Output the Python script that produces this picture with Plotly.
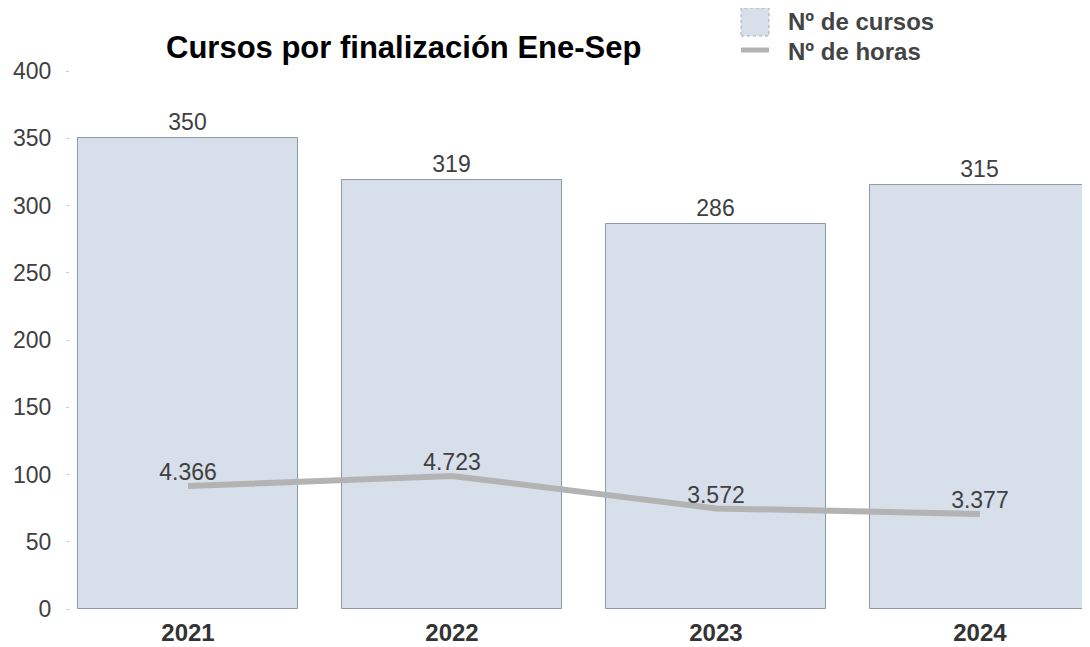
import plotly.graph_objects as go

years = ["2021", "2022", "2023", "2024"]
cursos = [350, 319, 286, 315]
horas = [4366, 4723, 3572, 3377]
y_ticks = [0, 50, 100, 150, 200, 250, 300, 350, 400]

OFF = 8  # page body margin
W, H = 1082, 639
ML, MR, MT, MB = 62, 0, 63, 38
PW, PH = W - ML - MR, H - MT - MB

def px(x):
    return (x - OFF - ML) / PW

def py(y):
    return (H - MB - (y - OFF)) / PH

BAR_FILL = "#D6DFEA"
BAR_LINE = "#8E99A8"
LINE_COL = "#B3B3B3"
TXT = "#404040"
FONT = "Liberation Sans, Arial, sans-serif"

fig = go.Figure()
fig.add_trace(go.Bar(
    x=years, y=cursos, name="Nº de cursos",
    marker=dict(color=BAR_FILL, line=dict(color=BAR_LINE, width=1)),
    width=0.833,
    text=cursos, textposition="outside", cliponaxis=False,
    textfont=dict(size=23, color=TXT, family=FONT),
    showlegend=False,
))
fig.add_trace(go.Scatter(
    x=years, y=horas, name="Nº de horas", yaxis="y2",
    mode="lines+text", line=dict(color=LINE_COL, width=6),
    texttemplate="%{y:,}", textposition="top center", cliponaxis=False,
    textfont=dict(size=23, color=TXT, family=FONT),
    showlegend=False,
))

shapes = [
    dict(type="rect", xref="paper", yref="paper",
         x0=px(741), x1=px(769), y0=py(36), y1=py(8),
         fillcolor=BAR_FILL, line=dict(color="#A4ADBA", width=1, dash="dot")),
    dict(type="line", xref="paper", yref="paper",
         x0=px(741), x1=px(769), y0=py(50), y1=py(50),
         line=dict(color=LINE_COL, width=5)),
]
annotations = [
    dict(text="<b>Nº de cursos</b>", xref="paper", yref="paper", x=px(786), y=py(22),
         xanchor="left", yanchor="middle", showarrow=False,
         font=dict(size=24, color="#444444", family=FONT)),
    dict(text="<b>Nº de horas</b>", xref="paper", yref="paper", x=px(786), y=py(51),
         xanchor="left", yanchor="middle", showarrow=False,
         font=dict(size=24, color="#444444", family=FONT)),
    dict(text="<b>Cursos por finalización Ene-Sep</b>", xref="paper", yref="paper",
         x=px(403), y=py(47), xanchor="center", yanchor="middle", showarrow=False,
         font=dict(size=31, color="#000000", family=FONT)),
]

fig.update_layout(
    width=W, height=H,
    margin=dict(l=ML, r=MR, t=MT, b=MB, autoexpand=False),
    paper_bgcolor="white", plot_bgcolor="white",
    separators=",.",
    font=dict(family=FONT, color=TXT),
    shapes=shapes, annotations=annotations,
    xaxis=dict(
        range=[-0.447, 3.417], showgrid=False, zeroline=False, showline=False,
        ticks="", tickfont=dict(size=24, color="#333333", family=FONT),
        tickprefix="<b>", ticksuffix="</b>", ticklabelstandoff=7,
    ),
    yaxis=dict(
        range=[0, 400], tickvals=y_ticks, showgrid=False, zeroline=False,
        showline=False, ticks="outside", ticklen=3, tickcolor="#CCCCCC",
        tickfont=dict(size=23, color=TXT, family=FONT), ticklabelstandoff=10,
    ),
    yaxis2=dict(
        range=[0, 19100], overlaying="y", side="right", visible=False,
        showgrid=False, zeroline=False,
    ),
    bargap=0,
)

fig.write_html("out.html")
